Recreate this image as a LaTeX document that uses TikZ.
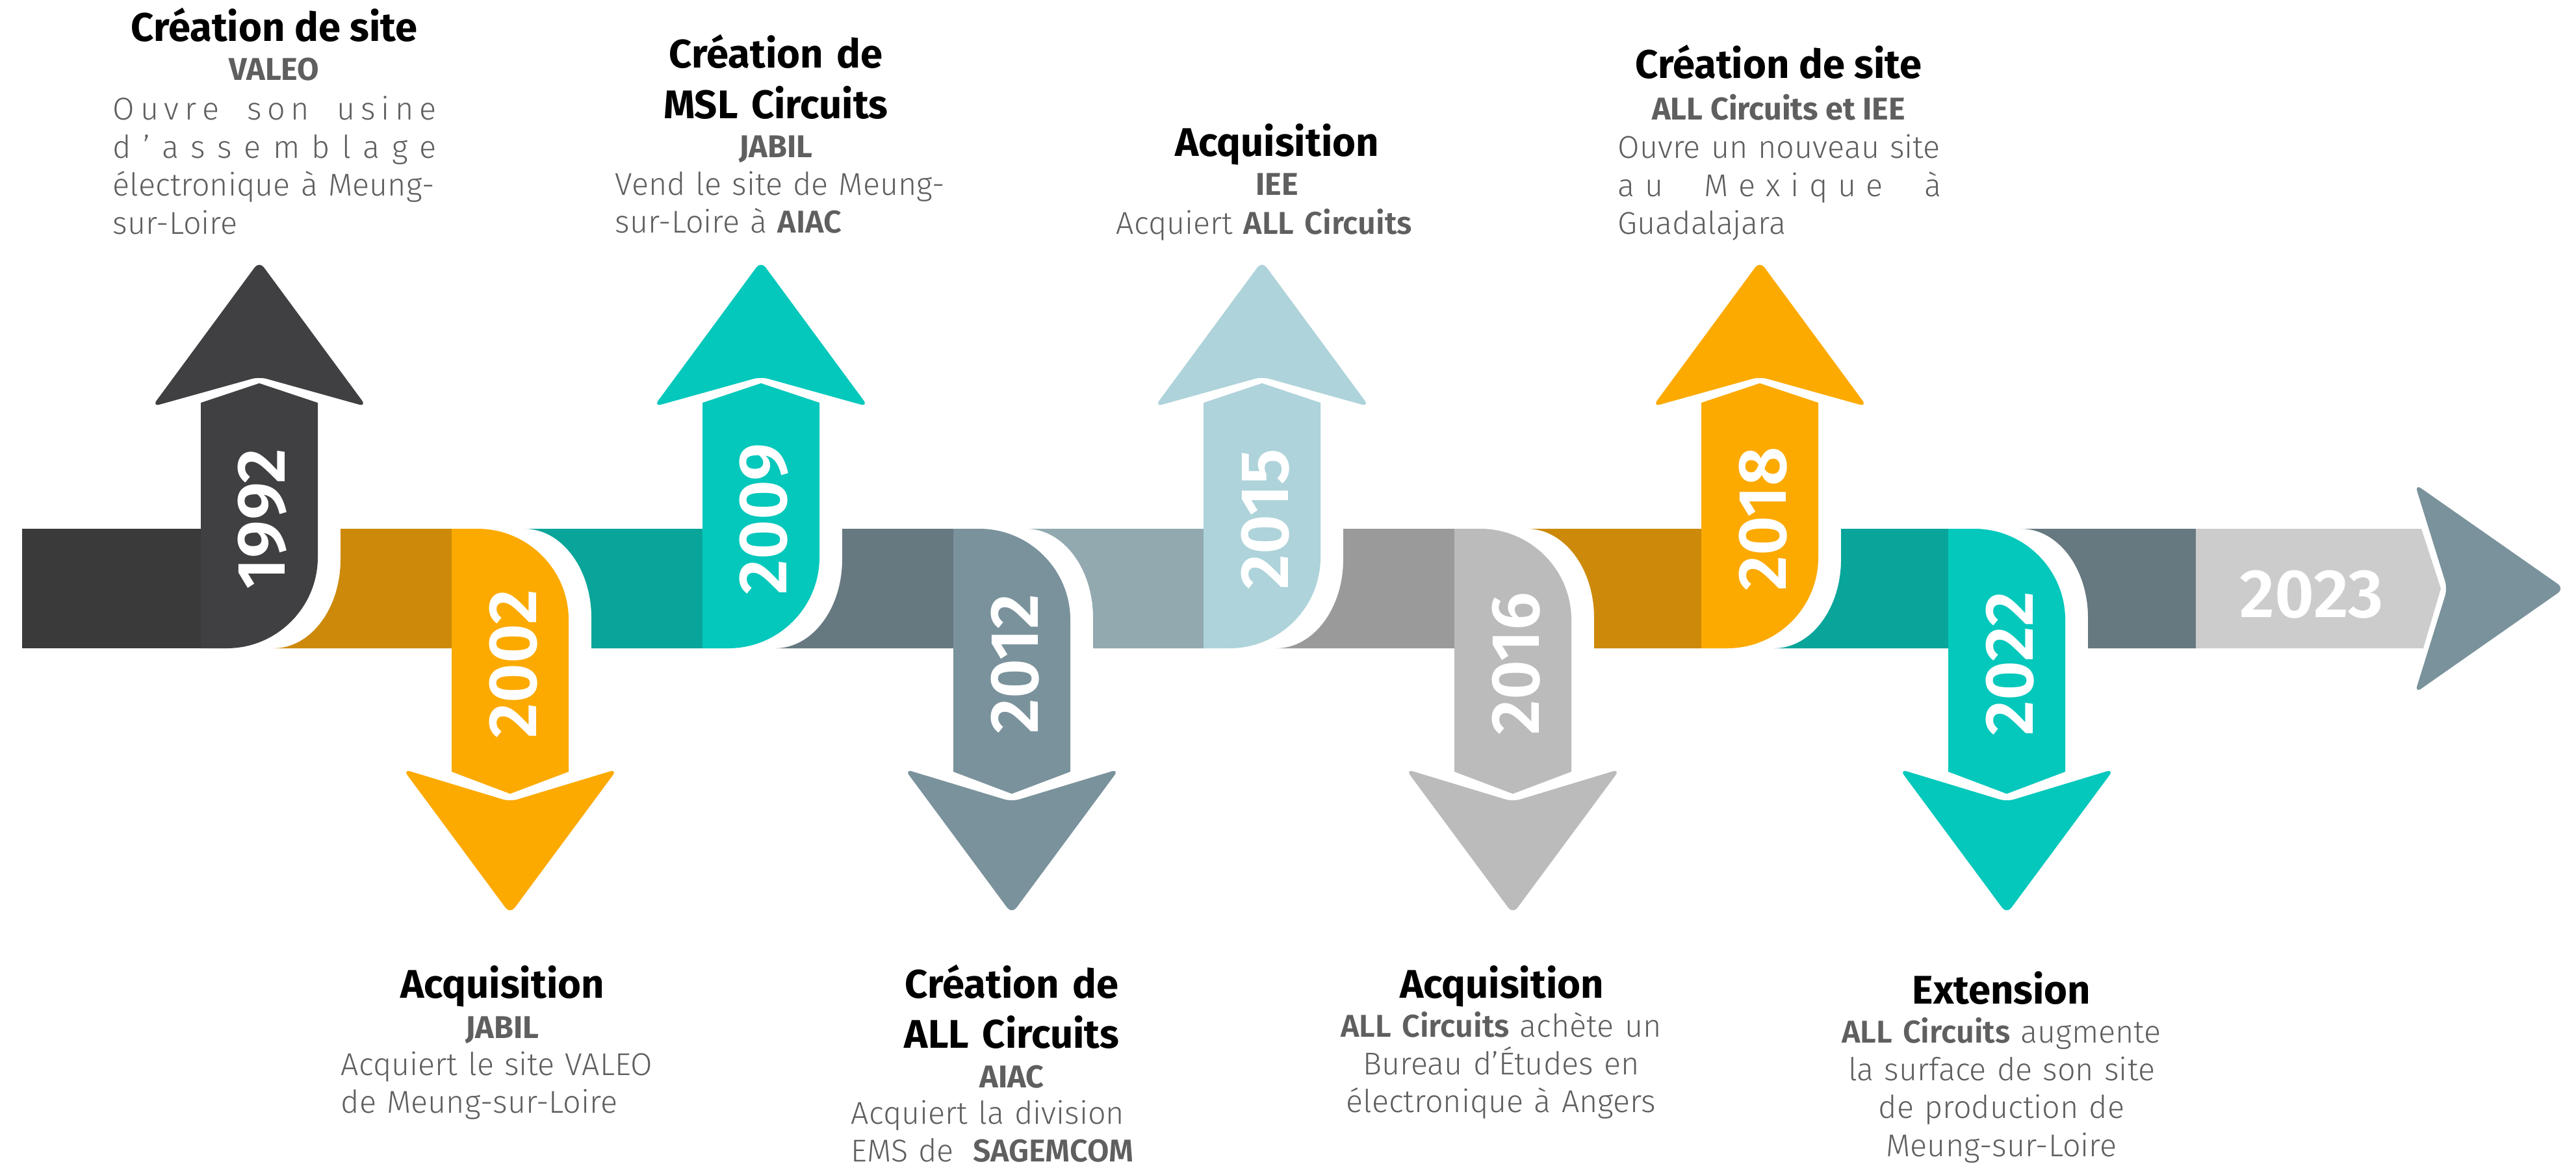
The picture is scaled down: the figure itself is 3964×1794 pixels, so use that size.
\documentclass[tikz,border=0pt]{standalone}
\usepackage{fontspec}
\setmainfont{Fira Sans}
\newfontfamily\lightfont{Fira Sans Light}[BoldFont={Fira Sans SemiBold}]
\newfontfamily\yearfont{Fira Sans SemiBold}
\usepackage{tikz}

\definecolor{bandgray}{HTML}{3A3A3A}
\definecolor{dkarrow}{HTML}{404042}
\definecolor{amberdk}{HTML}{CD8A0A}
\definecolor{amber}{HTML}{FCAA00}
\definecolor{tealdk}{HTML}{0AA59A}
\definecolor{teal}{HTML}{04C8BC}
\definecolor{slatedk}{HTML}{667880}
\definecolor{slate}{HTML}{7A929C}
\definecolor{slatelt}{HTML}{92A9B0}
\definecolor{sky}{HTML}{AED3DA}
\definecolor{graydk}{HTML}{9A9A9A}
\definecolor{graylt}{HTML}{BBBBBB}
\definecolor{endgray}{HTML}{CCCCCC}
\definecolor{txtgray}{HTML}{5F5F5F}

\newcommand{\spread}[1]{\makebox[\linewidth][s]{#1}}
\newcommand{\wgap}{\hfill\ \hfill\hfill}

\begin{document}
\begin{tikzpicture}[
		x=0.01cm, y=-0.01cm,
		yearlabel/.style={text=white, inner sep=0pt, font=\yearfont\fontsize{30}{30}\selectfont},
		headline/.style={anchor=base, inner sep=0pt, font=\bfseries\fontsize{17.5}{21.9}\selectfont},
		company/.style={anchor=base, inner sep=0pt, text=txtgray, font=\bfseries\fontsize{13.8}{16.6}\selectfont},
		bodytext/.style={anchor=base west, inner sep=0pt, text=txtgray, align=left, font=\lightfont\fontsize{13.8}{16.6}\selectfont},
		centrebody/.style={anchor=base, inner sep=0pt, text=txtgray, align=center, text width=6cm, font=\lightfont\fontsize{13.8}{16.6}\selectfont}
	]
	\fill[white] (0,0) rectangle (3964,1794);
	\useasboundingbox (0,0) rectangle (3964,1794);

	\fill[bandgray] (34,814) rectangle (309,998);
	\foreach \xb/\xe/\col in {489/695/amberdk, 1261/1467/slatedk, 2032/2238/graydk, 2798/2998/tealdk}
		\fill[\col] (\xb+35,814) -- (\xe,814) -- (\xe,998) -- (\xb-68,998) .. controls (\xb-11,998) and (\xb+35,937) .. (\xb+35,861) -- cycle;
	\foreach \xb/\xe/\col in {875/1081/tealdk, 1647/1852/slatelt, 2418/2618/amberdk, 3178/3379/slatedk}
		\fill[\col] (\xb-68,814) -- (\xe,814) -- (\xe,998) -- (\xb+35,998) -- (\xb+35,951) .. controls (\xb+35,875) and (\xb-11,814) .. (\xb-68,814) -- cycle;

	\foreach \c/\col/\yr in {399/dkarrow/1992, 1171/teal/2009, 1942/sky/2015, 2708/amber/2018} {
		\fill[\col] (\c-90,620) -- (\c,590) -- (\c+90,620) -- (\c+90,858) .. controls (\c+90,935) and (\c+27,998) .. (\c-50,998) -- (\c-90,998) -- cycle;
		\fill[\col, rounded corners=0.12cm] (\c,402) -- (\c+165,626) -- (\c,580) -- (\c-165,626) -- cycle;
		\node[yearlabel, rotate=90] (y\yr) at (\c+5,799) {\yr};
	}
	\foreach \c/\col/\yr in {785/amber/2002, 1557/slate/2012, 2328/graylt/2016, 3088/teal/2022} {
		\fill[\col] (\c-90,814) -- (\c-50,814) .. controls (\c+27,814) and (\c+90,877) .. (\c+90,954) -- (\c+90,1188) -- (\c,1222) -- (\c-90,1188) -- cycle;
		\fill[\col, rounded corners=0.12cm] (\c,1407) -- (\c-165,1184) -- (\c,1234) -- (\c+165,1184) -- cycle;
		\node[yearlabel, rotate=90] (y\yr) at (\c+5,1022) {\yr};
	}

	\fill[endgray] (3379,814) -- (3726,814) -- (3756,906) -- (3729,998) -- (3379,998) -- cycle;
	\fill[slate, rounded corners=0.12cm] (3716,745) -- (3946,906) -- (3716,1067) -- (3766,906) -- cycle;
	\node[yearlabel] (y2023) at (3557,915) {2023};

	\node[headline] (t1992) at (422,64) {Création de site};
	\node[company] (c1992) at (422,124) {VALEO};
	\node[bodytext, text width=4.98cm] (b1992) at (173,185) {\spread{O\hfill u\hfill v\hfill r\hfill e\wgap s\hfill o\hfill n\wgap u\hfill s\hfill i\hfill n\hfill e}\\
		\spread{d\hfill ’\hfill a\hfill s\hfill s\hfill e\hfill m\hfill b\hfill l\hfill a\hfill g\hfill e}\\
		\spread{électronique à Meung-}\\
		sur-Loire};

	\node[headline, text width=6cm, align=center] (t2009) at (1194,105) {Création de\\MSL Circuits};
	\node[company] (c2009) at (1194,242) {JABIL};
	\node[bodytext, text width=4.93cm] (b2009) at (946,300) {\spread{Vend le site de Meung-}\\
		sur-Loire à \textbf{AIAC}};

	\node[headline] (t2015) at (1965,241) {Acquisition};
	\node[company] (c2015) at (1965,300) {IEE};
	\node[bodytext, text width=4.98cm] (b2015) at (1717,360) {Acquiert \textbf{ALL Circuits}};

	\node[headline] (t2018) at (2737,121) {Création de site};
	\node[company] (c2018) at (2737,185) {ALL Circuits et IEE};
	\node[bodytext, text width=4.97cm] (b2018) at (2489,244) {\spread{Ouvre un nouveau site}\\
		\spread{a\hfill u\wgap M\hfill e\hfill x\hfill i\hfill q\hfill u\hfill e\wgap à}\\
		Guadalajara};

	\node[headline] (t2002) at (773,1536) {Acquisition};
	\node[company] (c2002) at (773,1598) {JABIL};
	\node[bodytext, text width=5cm] (b2002) at (524,1655) {\spread{Acquiert le site VALEO}\\
		de Meung-sur-Loire};

	\node[headline, text width=6cm, align=center] (t2012) at (1557,1536) {Création de\\ALL Circuits};
	\node[company] (c2012) at (1557,1674) {AIAC};
	\node[bodytext, text width=4.96cm] (b2012) at (1309,1730) {\spread{Acquiert la division}\\
		EMS de\hspace{0.6em}\textbf{SAGEMCOM}};

	\node[headline] (t2016) at (2311,1536) {Acquisition};
	\node[centrebody] (b2016) at (2310,1596) {\textbf{ALL Circuits} achète un\\Bureau d’Études en\\électronique à Angers};

	\node[headline] (t2022) at (3080,1545) {Extension};
	\node[centrebody] (b2022) at (3080,1605) {\textbf{ALL Circuits} augmente\\la surface de son site\\de production de\\Meung-sur-Loire};
\end{tikzpicture}
\end{document}
